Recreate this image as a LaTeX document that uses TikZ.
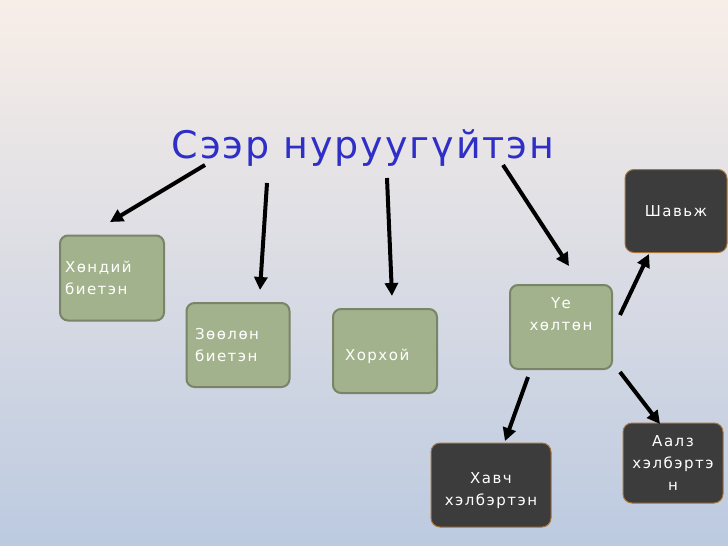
\documentclass[tikz,border=0pt]{standalone}
\usepackage{fontspec}
\setmainfont{DejaVu Sans}
\newfontfamily\widefont[LetterSpace=10]{DejaVu Sans}
\newfontfamily\titlefont[LetterSpace=5]{DejaVu Sans}
\usetikzlibrary{positioning,arrows.meta}
\definecolor{titleblue}{HTML}{2F2FC8}
\definecolor{boxgreen}{HTML}{A2B28C}
\definecolor{boxedge}{HTML}{7A8468}
\definecolor{stone}{HTML}{3C3C3C}
\definecolor{stoneedge}{HTML}{A8743A}
\definecolor{bgtop}{HTML}{F8EEE8}
\definecolor{bgmid}{HTML}{DCC0CC}
\definecolor{bgbot}{HTML}{BCCAE0}
\tikzset{
  taxon/.style = {draw=boxedge, line width=2pt, fill=boxgreen, rounded corners=8pt,
                  text=white, font=\widefont\fontsize{15}{22}\selectfont, inner sep=4pt},
  rock/.style  = {draw=stoneedge, line width=1pt, fill=stone, rounded corners=9pt,
                  text=white, font=\widefont\fontsize{15}{22}\selectfont, align=center},
  branch/.style = {-{Triangle[length=13pt,width=13pt]}, line width=4pt, black}
}
\begin{document}
\begin{tikzpicture}[x=1pt,y=-1pt]
   % background
   \shade[top color=bgtop, middle color=bgmid, bottom color=bgbot]
      (0,0) rectangle (728,546);
   \useasboundingbox (0,0) rectangle (728,546);

   \node[text=titleblue, font=\titlefont\fontsize{38}{44}\selectfont] (title) at (363,148) {Сээр нуруугүйтэн};

   % first level
   \node[taxon, minimum width=104pt, minimum height=85pt, align=left, text width=94pt]
        (hondii) at (112,278) {Хөндий\\биетэн};
   \node[taxon, minimum width=103pt, minimum height=84pt, align=left, text width=86pt]
        (zoolon) at (238,345) {Зөөлөн\\биетэн};
   \node[taxon, minimum width=104pt, minimum height=84pt, align=left, text width=80pt]
        (horhoi) at (385,351) {\\Хорхой};
   \node[taxon, minimum width=102pt, minimum height=84pt, align=center]
        (uye) at (561,327) {Үе\\хөлтөн\\[4pt]};

   % second level
   \node[rock, minimum width=102pt, minimum height=83pt] (shavj) at (676,211) {Шавьж};
   \node[rock, minimum width=120pt, minimum height=84pt] (havch) at (491,485) {\\Хавч\\хэлбэртэн};
   \node[rock, minimum width=100pt, minimum height=80pt] (aalz)  at (673,463) {Аалз\\хэлбэртэ\\н};

   % arrows
   \coordinate (t1) at (205,165);
   \coordinate (t2) at (267,183);
   \coordinate (t3) at (387,178);
   \coordinate (t4) at (503,165);
   \draw[branch] (t1) -- (110,222);
   \draw[branch] (t2) -- (260,290);
   \draw[branch] (t3) -- (392,296);
   \draw[branch] (t4) -- (569,266);

   \coordinate (u1) at (528,377);
   \coordinate (u2) at (620,372);
   \coordinate (u3) at (620,315);
   \draw[branch] (u1) -- (505,441);
   \draw[branch] (u2) -- (660,424);
   \draw[branch] (u3) -- (649,254);
\end{tikzpicture}
\end{document}
